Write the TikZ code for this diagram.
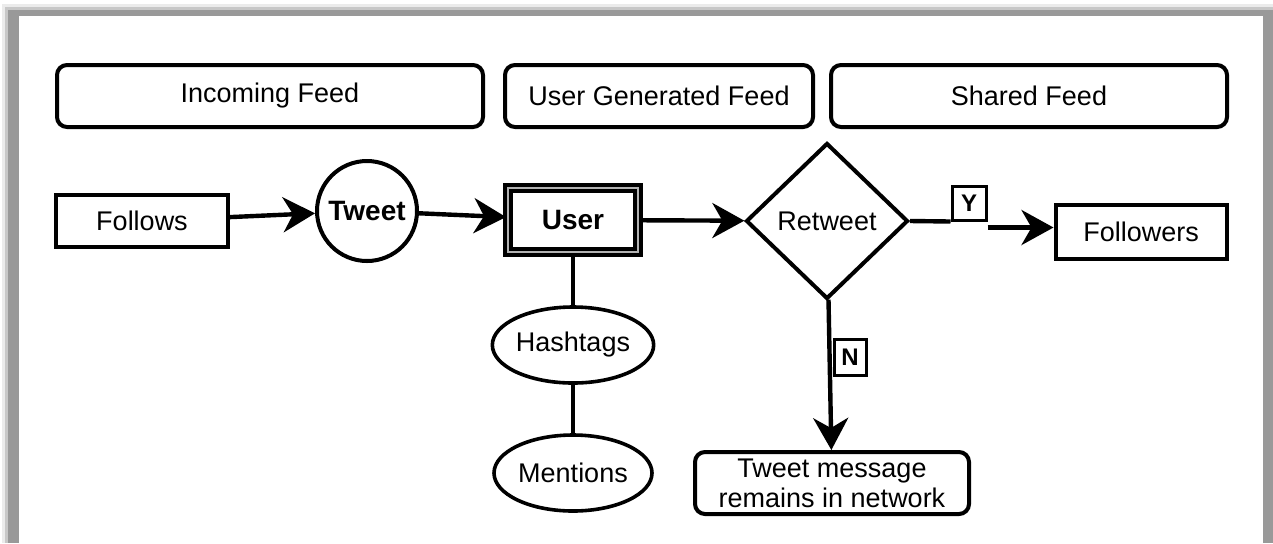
\documentclass[tikz,border=0pt]{standalone}
\usepackage{fontspec}
\setmainfont{Liberation Sans}
\usetikzlibrary{shapes.geometric,arrows.meta}

\begin{document}
\begin{tikzpicture}[x=0.5pt, y=-0.5pt,
    every node/.style={font=\fontsize{13.5}{15}\selectfont, inner sep=0pt},
    feed/.style={draw, line width=2pt, rounded corners=5pt, minimum width=#1, minimum height=31pt},
    box/.style={draw, line width=2pt},
    oval/.style={draw, ellipse, line width=1.8pt, minimum width=79pt, minimum height=38pt},
    flag/.style={draw, line width=1.5pt, font=\fontsize{12}{12}\selectfont\bfseries},
    link/.style={line width=2.2pt},
    arrow/.style={link, -{Stealth[length=16pt, width=17.5pt, inset=5pt]}}]
    \useasboundingbox (0,0) rectangle (1273,543);
    % frame with its shadow
    \fill[black!8] (2,4) rectangle (1273,543);
    \fill[black!22] (5,7) rectangle (1273,543);
    \fill[black!40] (8,10) rectangle (1273,543);
    \fill[white] (19,16) rectangle (1263,543);

    \node [feed=213pt] (incoming) at (270,96) {Incoming Feed};
    \node [feed=154pt] (usergen) at (659,96) {User Generated Feed};
    \node [feed=198pt] (shared) at (1029,96) {Shared Feed};

    \node [box, minimum width=86pt, minimum height=26pt] (follows) at (142,221) {Follows};
    \node [draw, circle, line width=2pt, minimum size=50pt, font=\fontsize{14}{15}\selectfont\bfseries] (tweet) at (367,211) {Tweet};
    \node [draw, line width=2pt, double=black!30, double distance=0.8pt, minimum width=65pt, minimum height=32pt, font=\fontsize{14}{15}\selectfont\bfseries] (user) at (573,220) {User};
    \node [draw, diamond, line width=2pt, minimum width=81pt, minimum height=78pt] (retweet) at (827,221) {Retweet};
    \node [flag, minimum width=17pt, minimum height=17pt] (yflag) at (969,203) {Y};
    \node [box, minimum width=85.5pt, minimum height=27pt] (followers) at (1141,232) {Followers};
    \node [flag, minimum width=16pt, minimum height=18pt] (nflag) at (850,357) {N};
    \node [feed=137pt, align=center] (message) at (832,483) {Tweet message\\remains in network};
    \node [oval] (hashtags) at (573,345) {Hashtags};
    \node [oval] (mentions) at (573,473) {Mentions};

    \draw [arrow] (follows) -- (tweet);
    \draw [arrow] (tweet) -- (user);
    \draw [arrow] (user) -- (retweet);
    \draw [link] (user) -- (hashtags);
    \draw [link] (hashtags) -- (mentions);
    \draw [link] (retweet.east) -- (yflag.south west);
    \draw [arrow] (yflag.south east) ++(0,6) coordinate (yout) -- (yout -| followers.west);
    \draw [arrow] (retweet) -- (message);
\end{tikzpicture}
\end{document}
